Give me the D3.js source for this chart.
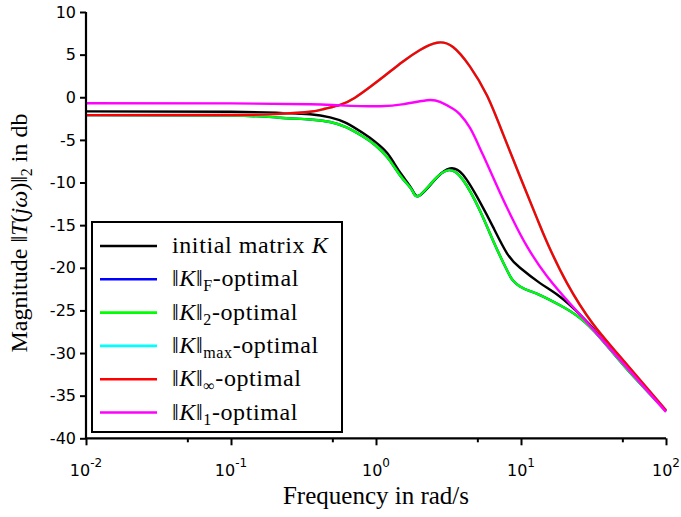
<!DOCTYPE html>
<html><head><meta charset="utf-8">
<script src="https://cdn.jsdelivr.net/npm/d3@7"></script>
<style>
html,body{margin:0;padding:0;background:#fff;}
svg{display:block;}
</style></head>
<body>
<svg id="chart" width="681" height="517"></svg>
<script>
// ---- data, frequency in rad/s, magnitude in dB ----
const freqBlack = [0.01,0.1,0.218,0.351,0.482,0.621,0.813,0.984,1.191,1.352,1.536,1.771,2.011,2.635,3.237,3.981,5.214,6.412,8.008,9.842,13.52,18.58,25.53,35.07,53.83,100];
const magBlack  = [-1.65,-1.7,-1.84,-2.0,-2.35,-3.0,-4.2,-5.2,-6.5,-7.9,-9.3,-10.8,-11.5,-9.4,-8.35,-9.1,-12.3,-15.2,-18.3,-20.0,-21.8,-23.4,-25.5,-28.0,-31.7,-36.8];

const freqGreen = [0.01,0.1,0.218,0.351,0.482,0.621,0.813,0.984,1.191,1.352,1.536,1.771,1.980,2.552,3.186,3.981,5.214,6.412,8.008,8.808,9.842,11.54,13.52,18.58,25.53,35.07,53.83,100];
const magGreen  = [-2.1,-2.15,-2.4,-2.6,-2.9,-3.5,-4.6,-5.6,-7.0,-8.3,-9.6,-10.9,-11.55,-9.6,-8.55,-9.7,-13.3,-16.8,-20.3,-21.5,-22.2,-22.75,-23.2,-24.4,-25.9,-28.2,-31.9,-36.8];

const freqRed = [0.01,0.1,0.218,0.351,0.445,0.565,0.716,0.909,1.154,1.536,2.011,2.635,3.396,4.450,5.83,7.514,9.842,12.89,15.11,20.76,31.38,48.18,100];
const magRed  = [-2.1,-2.08,-1.95,-1.7,-1.35,-0.9,-0.05,1.2,2.55,4.2,5.55,6.4,5.9,3.6,0.2,-4.3,-9.3,-14.2,-17.0,-21.8,-26.6,-30.4,-36.7];

const freqMagenta = [0.01,0.1,0.351,0.565,1.066,1.560,2.249,2.763,3.396,3.796,4.450,5.214,5.83,7.165,8.808,11.0,15.11,21.78,31.38,48.18,100];
const magMagenta  = [-0.7,-0.72,-0.82,-0.95,-1.06,-0.8,-0.35,-0.55,-1.35,-2.0,-3.6,-6.0,-7.8,-11.2,-14.4,-17.5,-21.0,-24.2,-27.2,-30.8,-36.9];

// the F-optimal and max-optimal results lie under the 2-optimal and inf-optimal curves
const freqBlue = freqGreen, magBlue = magGreen;
const freqCyan = freqRed,   magCyan = magRed;

const seriesSubs = ["", "F", "2", "max", "\u221E", "1"];
const seriesColors = ["#000000", "#0000ff", "#00ff00", "#00ffff", "#ff0000", "#ff00ff"];
const xTickExps = [-2, -1, 0, 1, 2];
const xMinorTicks = [0.05, 0.5, 5, 50];
const yTicks = [-40,-35,-30,-25,-20,-15,-10,-5,0,5,10];

// ---- drawing ----
const svg = d3.select("#chart");
const x = d3.scaleLog().domain([0.01, 100]).range([86, 666]);
const y = d3.scaleLinear().domain([-40, 10]).range([438.3, 12]);

const series = [
  {f: freqBlack, m: magBlack},
  {f: freqBlue, m: magBlue},
  {f: freqGreen, m: magGreen},
  {f: freqCyan, m: magCyan},
  {f: freqRed, m: magRed},
  {f: freqMagenta, m: magMagenta}
];

const line = d3.line().x(d => x(d[0])).y(d => y(d[1])).curve(d3.curveNatural);

series.forEach((s, i) => {
  svg.append("path")
    .attr("d", line(s.f.map((f, k) => [f, s.m[k]])))
    .attr("fill", "none")
    .attr("stroke", seriesColors[i])
    .attr("stroke-width", 2.4);
});

// axes
const xAxis = svg.append("g").attr("transform", "translate(0,438.3)")
  .call(d3.axisBottom(x).tickValues(xTickExps.map(e => Math.pow(10, e))).tickSize(7).tickFormat(""));
const xMinor = svg.append("g").attr("transform", "translate(0,438.3)")
  .call(d3.axisBottom(x).tickValues(xMinorTicks).tickSize(4).tickFormat(""));
xMinor.select(".domain").remove();
const yAxis = svg.append("g").attr("transform", "translate(86,0)")
  .call(d3.axisLeft(y).tickValues(yTicks).tickSize(6).tickPadding(4).tickFormat(d => String(d)));

[xAxis, xMinor, yAxis].forEach(g => {
  g.selectAll(".domain").attr("stroke", "#000").attr("stroke-width", 2.2);
  g.selectAll(".tick line").attr("stroke", "#000").attr("stroke-width", 2);
});
xAxis.select(".domain").attr("d", "M86,0H666");
yAxis.select(".domain").attr("d", "M0,12V438.3");

yAxis.selectAll(".tick text")
  .attr("font-family", "DejaVu Sans")
  .attr("font-size", 16)
  .attr("fill", "#000");

// x tick labels with superscripts
const xl = svg.append("g");
xTickExps.forEach(e => {
  const t = xl.append("text")
    .attr("x", x(Math.pow(10, e)))
    .attr("y", 476)
    .attr("text-anchor", "middle")
    .attr("font-family", "DejaVu Sans")
    .attr("font-size", 16)
    .attr("fill", "#000");
  t.append("tspan").text("10");
  t.append("tspan").attr("dy", -9).attr("font-size", 12).text(String(e));
});

// axis titles
svg.append("text")
  .attr("x", 376).attr("y", 504)
  .attr("text-anchor", "middle")
  .attr("font-family", "Liberation Serif")
  .attr("font-size", 25)
  .text("Frequency in rad/s");

const yl = svg.append("text")
  .attr("transform", "translate(27,233) rotate(-90)")
  .attr("text-anchor", "middle")
  .attr("font-family", "Liberation Serif")
  .attr("font-size", 24);
yl.append("tspan").text("Magnitude \u2016");
yl.append("tspan").attr("font-style", "italic").text("T");
yl.append("tspan").text("(");
yl.append("tspan").attr("font-style", "italic").text("j\u03C9");
yl.append("tspan").text(")\u2016");
yl.append("tspan").attr("dy", 5).attr("font-size", 16).text("2");
yl.append("tspan").attr("dy", -5).text(" in db");

// legend
const lg = svg.append("g");
lg.append("rect").attr("x", 92).attr("y", 222).attr("width", 250).attr("height", 210)
  .attr("fill", "#fff").attr("stroke", "#000").attr("stroke-width", 2);
seriesSubs.forEach((sub, i) => {
  const ly = 246 + i * 33.3;
  lg.append("line").attr("x1", 100).attr("x2", 157).attr("y1", ly).attr("y2", ly)
    .attr("stroke", seriesColors[i]).attr("stroke-width", 2.6);
  const t = lg.append("text").attr("x", 172).attr("y", ly + 7)
    .attr("font-family", "Liberation Serif").attr("font-size", 24)
    .attr("letter-spacing", 0.6).attr("fill", "#000");
  if (i === 0) {
    t.append("tspan").text("initial matrix ");
    t.append("tspan").attr("font-style", "italic").text("K");
  } else {
    t.append("tspan").text("\u2016");
    t.append("tspan").attr("font-style", "italic").text("K");
    t.append("tspan").text("\u2016");
    t.append("tspan").attr("dy", 5).attr("font-size", 16).text(sub);
    t.append("tspan").attr("dy", -5).text("-optimal");
  }
});
</script>
</body></html>
